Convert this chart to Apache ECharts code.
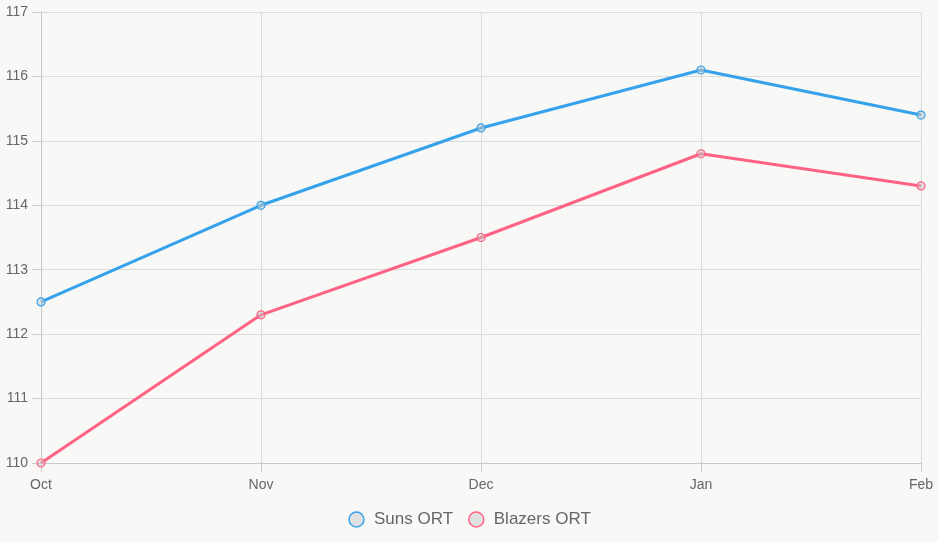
<!DOCTYPE html>
<html lang="en">
<head>
    <meta charset="UTF-8">
    <title>Suns vs Blazers ORT</title>
    <script src="https://cdn.jsdelivr.net/npm/echarts@6/dist/echarts.min.js"></script>
    <style>
        html, body { margin: 0; padding: 0; background: #f8f8f6; }
        #main { width: 939px; height: 542px; }
    </style>
</head>
<body>
<div id="main"></div>
<script type="text/javascript">
    var months = ['Oct', 'Nov', 'Dec', 'Jan', 'Feb'];
    var sunsOrt = [112.5, 114.0, 115.2, 116.1, 115.4];
    var blazersOrt = [110.0, 112.3, 113.5, 114.8, 114.3];

    var myChart = echarts.init(document.getElementById('main'));

    function makeSeries(name, data, color) {
        return {
            name: name,
            type: 'line',
            data: data,
            symbol: 'circle',
            symbolSize: 8,
            lineStyle: { color: color, width: 3 },
            itemStyle: { color: 'rgba(200,200,200,0.5)', borderColor: color, borderWidth: 1.2 },
            emphasis: { disabled: true }
        };
    }

    var option = {
        backgroundColor: '#f8f8f6',
        animation: false,
        textStyle: { fontFamily: 'Arial, "Liberation Sans", sans-serif' },
        grid: { left: 41, right: 18, top: 12, bottom: 79 },
        legend: {
            bottom: 9,
            left: 'center',
            itemWidth: 15,
            itemHeight: 15,
            itemGap: 15,
            icon: 'circle',
            textStyle: { color: '#666', fontSize: 17, padding: [0, 0, 0, 5] },
            data: [
                { name: 'Suns ORT', itemStyle: { color: '#e0e0e0', borderColor: '#36a2eb', borderWidth: 1.5 } },
                { name: 'Blazers ORT', itemStyle: { color: '#e0e0e0', borderColor: '#ff6384', borderWidth: 1.5 } }
            ]
        },
        xAxis: {
            type: 'category',
            boundaryGap: false,
            data: months,
            axisLine: { lineStyle: { color: '#c8c8c8' } },
            axisTick: { show: true, length: 9, lineStyle: { color: '#cccccc' } },
            axisLabel: { color: '#666', fontSize: 14, margin: 15 },
            splitLine: { show: true, lineStyle: { color: '#dcdcdc' } }
        },
        yAxis: {
            type: 'value',
            min: 110,
            max: 117,
            interval: 1,
            axisLine: { show: true, lineStyle: { color: '#c8c8c8' } },
            axisTick: { show: true, inside: false, length: 9, lineStyle: { color: '#cccccc' } },
            axisLabel: { color: '#666', fontSize: 14, margin: 13 },
            splitLine: { show: true, lineStyle: { color: '#dcdcdc' } }
        },
        series: [
            makeSeries('Suns ORT', sunsOrt, '#36a2eb'),
            makeSeries('Blazers ORT', blazersOrt, '#ff6384')
        ]
    };

    myChart.setOption(option);
</script>
</body>
</html>
